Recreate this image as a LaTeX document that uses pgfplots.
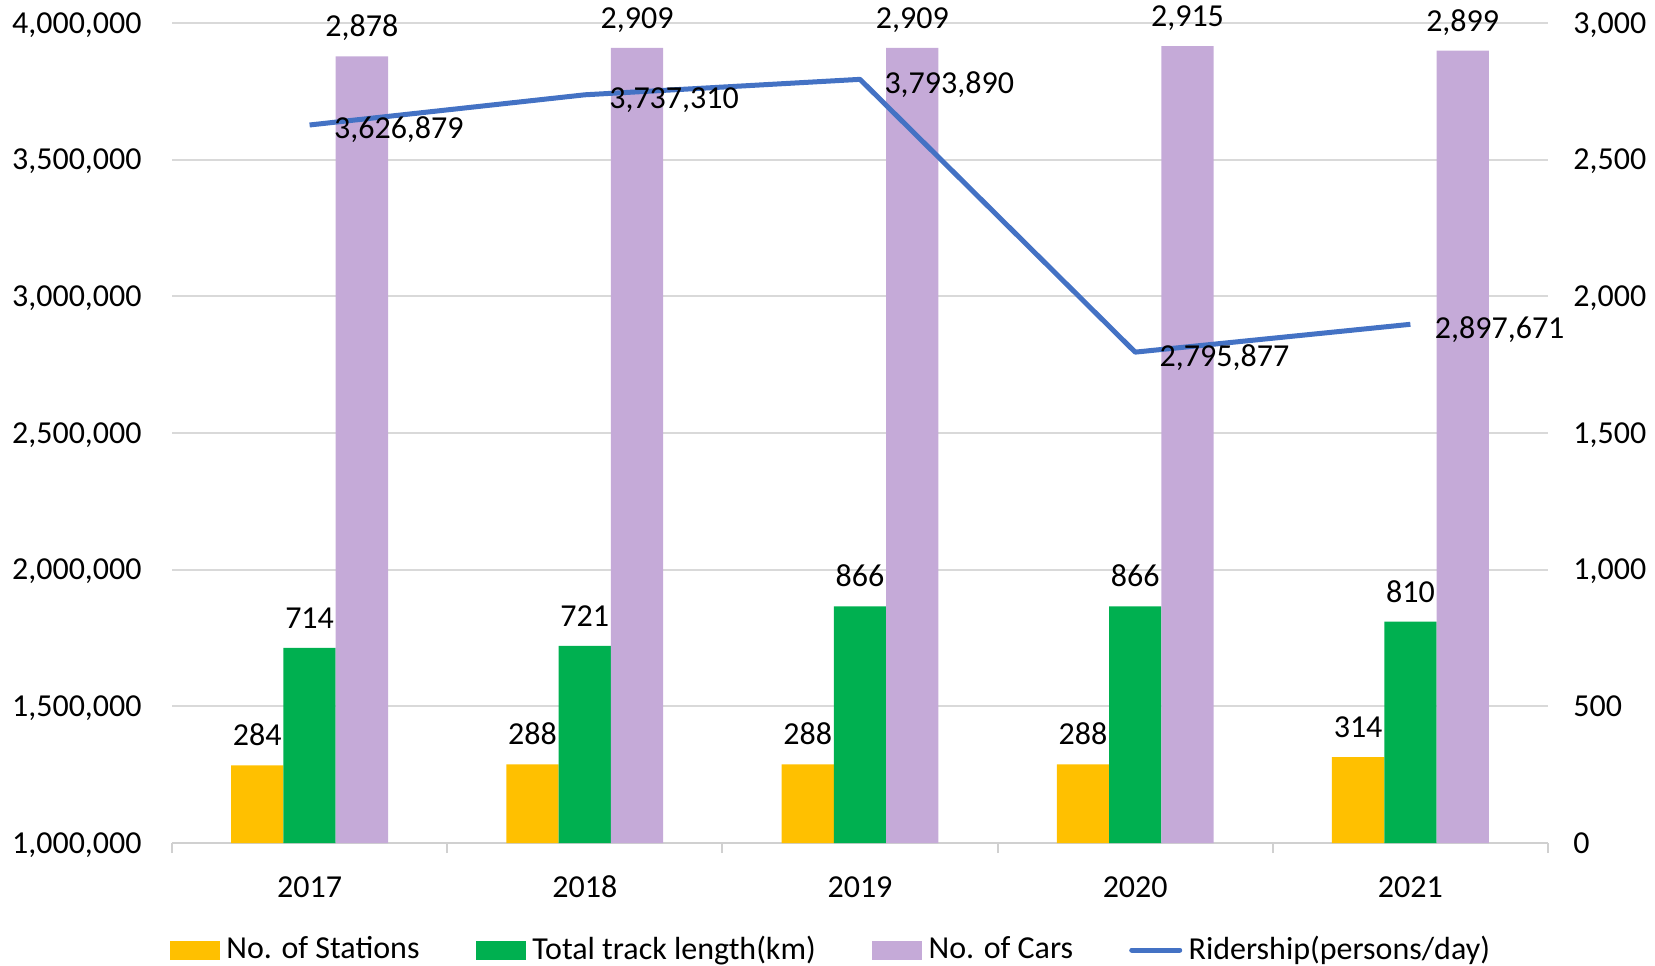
\documentclass[border=0pt]{standalone}
\usepackage{fontspec}
\setmainfont{Carlito}
\usepackage{pgfplots}
\usepackage{pgfplotstable}
\pgfplotsset{compat=1.18}
\definecolor{cStat}{HTML}{FFC000}
\definecolor{cTrack}{HTML}{00B050}
\definecolor{cCars}{HTML}{C5AAD8}
\definecolor{cLine}{HTML}{4472C4}
\definecolor{cGrid}{HTML}{D9D9D9}
\definecolor{cAxis}{HTML}{D0D0D0}

\pgfplotstableread{
x y lab
0 284 284
1 288 288
2 288 288
3 288 288
4 314 314
}\stations
\pgfplotstableread{
x y lab
0 714 714
1 721 721
2 866 866
3 866 866
4 810 810
}\track
\pgfplotstableread{
x y lab
0 2878 {2,878}
1 2909 {2,909}
2 2909 {2,909}
3 2915 {2,915}
4 2899 {2,899}
}\cars
\pgfplotstableread{
x y lab
0 3626879 {3,626,879}
1 3737310 {3,737,310}
2 3793890 {3,793,890}
3 2795877 {2,795,877}
4 2897671 {2,897,671}
}\riders

\begin{document}
\fontsize{16}{19}\selectfont
\begin{tikzpicture}[font=\fontsize{16}{19}\selectfont]
\pgfplotsset{
  base/.style={
    scale only axis, width=688pt, height=410pt,
    xmin=-0.5, xmax=4.5,
    /pgf/number format/assume math mode=true,
    major tick length=0pt,
    clip=false,
  },
  barlab/.style={
    nodes near coords, point meta=explicit symbolic,
    every node near coord/.append style={anchor=base, inner sep=0pt, yshift=9.75pt, text=black, font=\fontsize{16}{19}\selectfont},
  },
}
% ---- bars (right axis) ----
\begin{axis}[base,
  ybar, bar width=0.19,
  ymin=0, ymax=3000,
  ytick={0,500,1000,1500,2000,2500,3000},
  axis y line*=right, axis x line*=bottom,
  y axis line style={draw=none},
  x axis line style={draw=cAxis, line width=1pt},
  ymajorgrids, grid style={draw=cGrid, line width=0.9pt},
  xtick={0,1,2,3,4}, xticklabels={2017,2018,2019,2020,2021},
  minor xtick={-0.5,0.5,1.5,2.5,3.5,4.5},
  minor tick length=5pt, tick align=outside,
  tick style={draw=cAxis, line width=1pt},
  xticklabel style={anchor=base, inner sep=0pt, yshift=-27.25pt},
  yticklabel style={anchor=base west, inner sep=0pt, xshift=12.5pt, yshift=-5.1pt,
    /pgf/number format/.cd, fixed, 1000 sep={,}},
  scaled y ticks=false,
]
\addplot[fill=cStat, draw=none, bar shift=-0.19, barlab] table[x=x, y=y, meta=lab] {\stations};
\addplot[fill=cTrack, draw=none, bar shift=0, barlab] table[x=x, y=y, meta=lab] {\track};
\addplot[fill=cCars, draw=none, bar shift=0.19, barlab] table[x=x, y=y, meta=lab] {\cars};
\end{axis}
% ---- line (left axis) ----
\begin{axis}[base,
  ymin=1000000, ymax=4000000,
  ytick={1000000,1500000,2000000,2500000,3000000,3500000,4000000},
  axis y line*=left, hide x axis,
  y axis line style={draw=none},
  scaled y ticks=false,
  yticklabel style={anchor=base east, inner sep=0pt, xshift=-15pt, yshift=-5.1pt,
    /pgf/number format/.cd, fixed, 1000 sep={,}},
  legend columns=4,
  legend cell align=left,
  legend style={at={(0.4795,-0.1305)}, anchor=center, draw=none, fill=none,
    font=\fontsize{16}{19}\selectfont,
    /tikz/every odd column/.append style={column sep=1.2pt},
    /tikz/every even column/.append style={column sep=26pt}},
]
\addlegendimage{legend image code/.code={\fill[cStat] (0pt,-4.5pt) rectangle (24.8pt,4.5pt);}}
\addlegendentry{No. of Stations}
\addlegendimage{legend image code/.code={\fill[cTrack] (0pt,-4.5pt) rectangle (24.8pt,4.5pt);}}
\addlegendentry{Total track length(km)}
\addlegendimage{legend image code/.code={\fill[cCars] (0pt,-4.5pt) rectangle (24.8pt,4.5pt);}}
\addlegendentry{No. of Cars}
\addplot[cLine, line width=2.5pt, line join=round, mark=none,
  legend image code/.code={\draw[cLine, line width=2.5pt, line cap=round] (0.8pt,0pt) -- (24.8pt,0pt);},
  nodes near coords, point meta=explicit symbolic,
  every node near coord/.append style={anchor=base west, inner sep=0pt, xshift=11pt, yshift=-7pt, text=black, font=\fontsize{16}{19}\selectfont},
] table[x=x, y=y, meta=lab] {\riders};
\addlegendentry{Ridership(persons/day)}
\end{axis}
\pgfresetboundingbox
\useasboundingbox (-86pt,-61pt) rectangle (741.5pt,421.5pt);
\end{tikzpicture}
\end{document}
